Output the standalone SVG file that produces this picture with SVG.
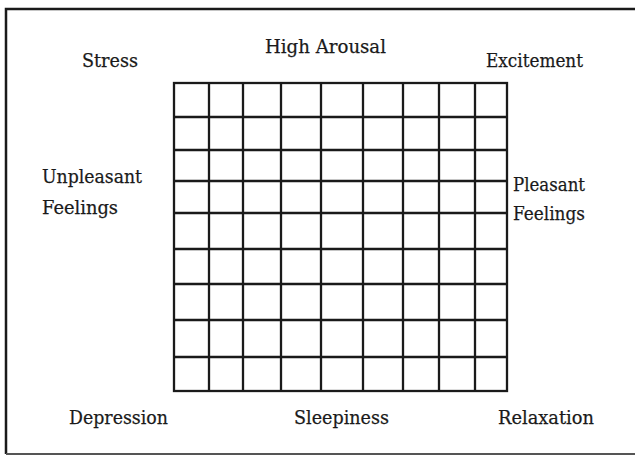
<svg xmlns="http://www.w3.org/2000/svg" width="635" height="456" viewBox="0 0 635 456">
<style>
.lbl{font-family:"DejaVu Serif","Liberation Serif",serif;font-size:19px;fill:#1a1a1a;stroke:#1a1a1a;stroke-width:0.25}
.g{stroke:#1a1a1a;stroke-width:2.3;fill:none}
</style>
<rect x="0" y="0" width="635" height="456" fill="#fff"/>
<g id="frame"><path d="M6,454 V9 H640" stroke="#1a1a1a" stroke-width="2.5" fill="none"/><path d="M6,454 H640" stroke="#555" stroke-width="2" fill="none"/></g>
<g id="grid" class="g">
<rect x="174" y="83" width="333" height="308"/>
<path d="M209,83V391M243,83V391M281,83V391M321,83V391M363,83V391M403,83V391M439,83V391M475,83V391"/>
<path d="M174,117H507M174,150H507M174,181H507M174,213H507M174,249H507M174,284H507M174,320H507M174,357H507"/>
</g>
<g id="labels">
<text class="lbl" x="82" y="67" textLength="56" lengthAdjust="spacingAndGlyphs">Stress</text>
<text class="lbl" x="265" y="53" textLength="121" lengthAdjust="spacingAndGlyphs">High Arousal</text>
<text class="lbl" x="486" y="67" textLength="97" lengthAdjust="spacingAndGlyphs">Excitement</text>
<text class="lbl" x="42" y="183" textLength="100" lengthAdjust="spacingAndGlyphs">Unpleasant</text>
<text class="lbl" x="42" y="214" textLength="76" lengthAdjust="spacingAndGlyphs">Feelings</text>
<text class="lbl" x="513" y="191" textLength="72" lengthAdjust="spacingAndGlyphs">Pleasant</text>
<text class="lbl" x="513" y="220" textLength="72" lengthAdjust="spacingAndGlyphs">Feelings</text>
<text class="lbl" x="69" y="424" textLength="99" lengthAdjust="spacingAndGlyphs">Depression</text>
<text class="lbl" x="294" y="424" textLength="95" lengthAdjust="spacingAndGlyphs">Sleepiness</text>
<text class="lbl" x="498" y="424" textLength="96" lengthAdjust="spacingAndGlyphs">Relaxation</text>
</g>
</svg>
